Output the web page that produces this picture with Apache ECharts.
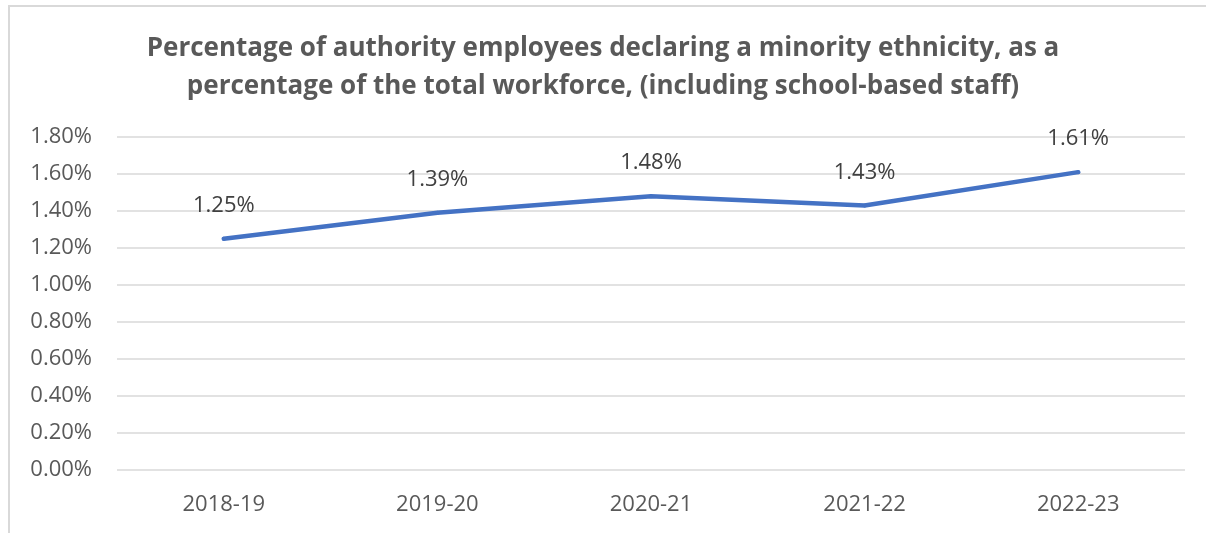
<!DOCTYPE html>
<html>
<head>
<meta charset="utf-8">
<script src="https://cdn.jsdelivr.net/npm/echarts@6/dist/echarts.min.js"></script>
<style>
  html, body { margin: 0; padding: 0; background: #ffffff; }
  #frame { position: absolute; left: 8px; top: 5px; width: 1400px; height: 800px;
           border-top: 2px solid #d9d9d9; border-left: 2px solid #d9d9d9; }
  #chart { position: absolute; left: 0; top: 0; width: 1206px; height: 533px; }
</style>
</head>
<body>
<div id="frame"></div>
<div id="chart"></div>
<script>
// School years on the category axis
const years = ['2018-19', '2019-20', '2020-21', '2021-22', '2022-23'];
// Share of employees declaring a minority ethnicity (percent)
const minorityShare = [1.25, 1.39, 1.48, 1.43, 1.61];
// Value axis range and step (percent)
const yMin = 0;
const yMax = 1.8;
const yStep = 0.2;

const chart = echarts.init(document.getElementById('chart'), null, { renderer: 'canvas' });
const font = '"Open Sans", "Noto Sans", sans-serif';

chart.setOption({
  backgroundColor: 'transparent',
  animation: false,
  title: {
    text: 'Percentage of authority employees declaring a minority ethnicity, as a\npercentage of the total workforce, (including school-based staff)',
    left: 'center',
    top: 25,
    textStyle: {
      fontFamily: font,
      fontSize: 26,
      fontWeight: 'bold',
      color: '#595959',
      lineHeight: 38
    }
  },
  grid: { left: 117, right: 21, top: 137, bottom: 63, containLabel: false },
  xAxis: {
    type: 'category',
    data: years,
    boundaryGap: true,
    axisLine: { show: false },
    axisTick: { show: false },
    axisLabel: { fontFamily: font, fontSize: 22, color: '#595959', margin: 24 }
  },
  yAxis: {
    type: 'value',
    min: yMin,
    max: yMax,
    interval: yStep,
    axisLine: { show: false },
    axisTick: { show: false },
    splitLine: { lineStyle: { color: '#d9d9d9', width: 1.5 } },
    axisLabel: {
      fontFamily: font,
      fontSize: 22,
      color: '#595959',
      margin: 25,
      formatter: v => v.toFixed(2) + '%'
    }
  },
  series: [{
    type: 'line',
    data: minorityShare,
    symbol: 'circle',
    symbolSize: 4,
    showSymbol: true,
    itemStyle: { color: '#4472c4' },
    lineStyle: { color: '#4472c4', width: 4.5, cap: 'round', join: 'round' },
    label: {
      show: true,
      position: 'top',
      distance: 20,
      fontFamily: font,
      fontSize: 22,
      color: '#404040',
      formatter: p => p.value.toFixed(2) + '%'
    }
  }]
});
</script>
</body>
</html>
